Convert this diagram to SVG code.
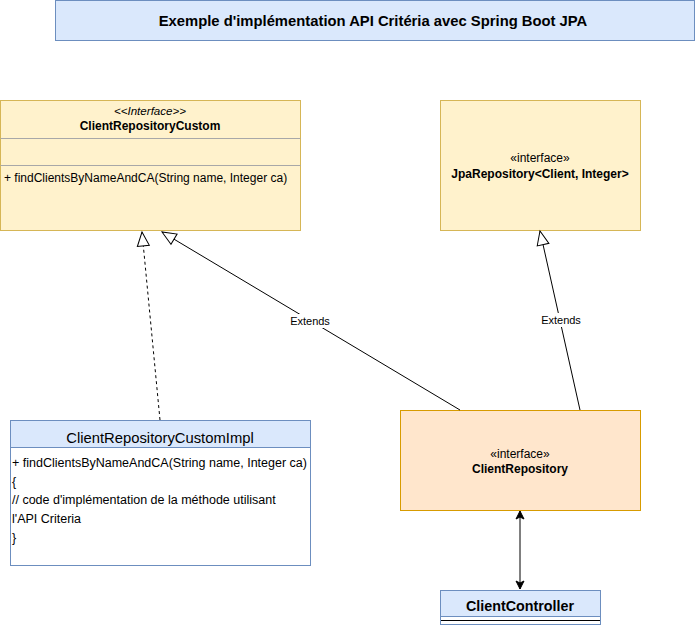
<svg xmlns="http://www.w3.org/2000/svg" width="695" height="625" viewBox="0 0 695 625">
<style>
  text { font-family: "Liberation Sans", Arial, sans-serif; fill: #000; }
  .yellow { fill: #fff2cc; stroke: #d6b656; stroke-width: 1; }
  .blue { fill: #dae8fc; stroke: #6c8ebf; stroke-width: 1; }
  .orange { fill: #ffe6cc; stroke: #d79b00; stroke-width: 1; }
  .white { fill: #ffffff; stroke: #6c8ebf; stroke-width: 1; }
  .div { stroke: #a8a8a8; stroke-width: 1; }
  .edge { fill: none; stroke: #000; stroke-width: 1; }
  .lbl { font-size: 11px; text-anchor: middle; }
  .c { text-anchor: middle; }
  .b { font-weight: bold; }
</style>
<defs>
  <marker id="tri" markerUnits="userSpaceOnUse" viewBox="0 0 16 14" refX="15" refY="7" markerWidth="16" markerHeight="14" orient="auto" overflow="visible">
    <path d="M1,1 L15,7 L1,13 Z" fill="#fff" stroke="#000" stroke-width="1"/>
  </marker>
  <marker id="arr" markerUnits="userSpaceOnUse" viewBox="0 0 10 10" refX="9" refY="5" markerWidth="10" markerHeight="10" orient="auto-start-reverse" overflow="visible">
    <path d="M1,1 L9,5 L1,9 L3,5 Z" fill="#000" stroke="#000" stroke-width="1"/>
  </marker>
</defs>

<g id="title">
  <rect x="55.5" y="0.5" width="639" height="40" class="blue"/>
  <text x="373" y="26" class="c b" style="font-size:14.8px">Exemple d'implémentation API Critéria avec Spring Boot JPA</text>
</g>

<g id="ClientRepositoryCustom">
  <rect x="0.5" y="100.5" width="300" height="130" class="yellow"/>
  <line x1="0.5" y1="138.5" x2="300.5" y2="138.5" class="div"/>
  <line x1="0.5" y1="165.5" x2="300.5" y2="165.5" class="div"/>
  <text x="150" y="115" class="c" style="font-size:11.6px;font-style:italic">&lt;&lt;Interface&gt;&gt;</text>
  <text x="150" y="129.5" class="c b" style="font-size:12px">ClientRepositoryCustom</text>
  <text x="4" y="182" style="font-size:12px">+ findClientsByNameAndCA(String name, Integer ca)</text>
</g>

<g id="JpaRepository">
  <rect x="440.5" y="100.5" width="200" height="130" class="yellow"/>
  <text x="540" y="162" class="c" style="font-size:12px">«interface»</text>
  <text x="540" y="177.5" class="c b" style="font-size:12px">JpaRepository&lt;Client, Integer&gt;</text>
</g>

<g id="ClientRepositoryCustomImpl">
  <rect x="10.5" y="420.5" width="300" height="145" class="white"/>
  <rect x="10.5" y="420.5" width="300" height="27" class="blue"/>
  <text x="160" y="443" class="c" style="font-size:14.8px">ClientRepositoryCustomImpl</text>
  <text x="12" y="466.5" style="font-size:12.5px">+ findClientsByNameAndCA(String name, Integer ca)</text>
  <text x="12" y="485.5" style="font-size:12.5px">{</text>
  <text x="12" y="503.5" style="font-size:12.5px">// code d'implémentation de la méthode utilisant</text>
  <text x="12" y="522.5" style="font-size:12.5px">l'API Criteria</text>
  <text x="12" y="541.5" style="font-size:12.5px">}</text>
</g>

<g id="ClientRepository">
  <rect x="400.5" y="410.5" width="240" height="100" class="orange"/>
  <text x="520" y="458" class="c" style="font-size:12px">«interface»</text>
  <text x="520" y="472.5" class="c b" style="font-size:12px">ClientRepository</text>
</g>

<g id="ClientController">
  <rect x="440.5" y="590.5" width="160" height="34" class="white"/>
  <rect x="440.5" y="590.5" width="160" height="26" class="blue"/>
  <line x1="441" y1="620.5" x2="600" y2="620.5" stroke="#000" stroke-width="1"/>
  <text x="520" y="611" class="c b" style="font-size:14.3px">ClientController</text>
</g>

<g id="connectors">
  <path d="M160,420 L142,232" class="edge" stroke-dasharray="3 3" marker-end="url(#tri)"/>
  <path d="M460,410 L162,232" class="edge" marker-end="url(#tri)"/>
  <path d="M580,410 L540,231" class="edge" marker-end="url(#tri)"/>
  <path d="M520,511 L520,589" class="edge" marker-start="url(#arr)" marker-end="url(#arr)"/>
  <rect x="290" y="314" width="40" height="14" fill="#fff"/>
  <text x="310" y="325" class="lbl">Extends</text>
  <rect x="541" y="313" width="40" height="14" fill="#fff"/>
  <text x="561" y="324" class="lbl">Extends</text>
</g>
</svg>
